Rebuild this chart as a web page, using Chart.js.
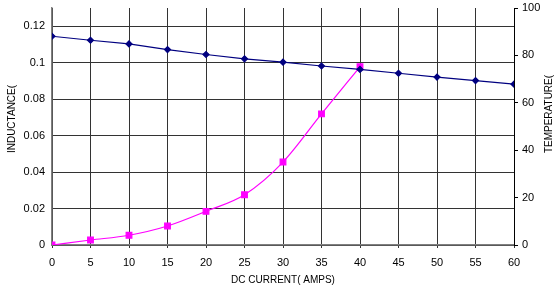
<!DOCTYPE html>
<html>
<head>
<meta charset="utf-8">
<script src="https://cdn.jsdelivr.net/npm/chart.js@4"></script>
<style>
  html, body { margin: 0; padding: 0; background: #fff; }
  #wrap { width: 556px; height: 292px; }
</style>
</head>
<body>
<div id="wrap"><canvas id="myChart" width="556" height="292"></canvas></div>
<script>
// DC current (amps)
const currentAmps = [0, 5, 10, 15, 20, 25, 30, 35, 40, 45, 50, 55, 60];
// inductance, left axis
const inductance = [0.1145, 0.1123, 0.1103, 0.1072, 0.1045, 0.1021, 0.1003, 0.0982, 0.0963, 0.0942, 0.0921, 0.0902, 0.0882];
// temperature rise, right axis (measured up to 40 A)
const tempAmps = [0, 5, 10, 15, 20, 25, 30, 35, 40];
const temperature = [0, 2.1, 4.1, 8.0, 14.2, 21.2, 35, 55.3, 75.2];

const leftTitle = 'INDUCTANCE(';
const rightTitle = 'TEMPERATURE(';
const xTitle = 'DC CURRENT( AMPS)';

const FONT = "'Liberation Sans', Arial, sans-serif";

const titlesPlugin = {
    id: 'titles',
    afterDraw(chart) {
        const c = chart.ctx;
        c.save();
        c.fillStyle = '#000';
        c.font = '10px ' + FONT;
        c.textAlign = 'center';
        c.textBaseline = 'middle';
        c.save();
        c.translate(12, 119);
        c.rotate(-Math.PI / 2);
        c.fillText(leftTitle, 0, 0);
        c.restore();
        c.save();
        c.translate(549, 114);
        c.rotate(-Math.PI / 2);
        c.fillText(rightTitle, 0, 0);
        c.restore();
        c.fillText(xTitle, 283, 280);
        c.restore();
    }
};

const ctx = document.getElementById('myChart').getContext('2d');
const myChart = new Chart(ctx, {
    type: 'line',
    data: {
        datasets: [{
            label: 'Inductance',
            data: currentAmps.map((x, i) => ({ x: x, y: inductance[i] })),
            yAxisID: 'y',
            borderColor: '#000080',
            backgroundColor: '#000080',
            borderWidth: 1.2,
            pointStyle: 'rectRot',
            pointRadius: 3,
            tension: 0
        }, {
            label: 'Temperature',
            data: tempAmps.map((x, i) => ({ x: x, y: temperature[i] })),
            yAxisID: 'y1',
            borderColor: '#ff00ff',
            backgroundColor: '#ff00ff',
            borderWidth: 1.2,
            pointStyle: 'rect',
            pointRadius: 4,
            cubicInterpolationMode: 'monotone'
        }]
    },
    options: {
        responsive: false,
        animation: false,
        layout: { padding: { top: 8, left: 0, right: 0, bottom: 0 } },
        plugins: {
            legend: { display: false },
            tooltip: { enabled: false }
        },
        scales: {
            x: {
                type: 'linear',
                min: 0,
                max: 60,
                afterFit(scale) { scale.height = 47; scale.paddingLeft = 0; scale.paddingRight = 0; },
                ticks: {
                    stepSize: 5,
                    color: '#000',
                    padding: 8,
                    maxRotation: 0,
                    font: { family: FONT, size: 11 }
                },
                grid: { color: '#333', lineWidth: 1, tickLength: 3 },
                border: { color: '#808080', width: 1.5 }
            },
            y: {
                position: 'left',
                min: 0,
                max: 0.13,
                afterFit(scale) { scale.width = 52; scale.paddingTop = 0; scale.paddingBottom = 0; },
                afterBuildTicks(scale) {
                    scale.ticks = [0, 0.02, 0.04, 0.06, 0.08, 0.1, 0.12].map(v => ({ value: v }));
                },
                ticks: {
                    color: '#000',
                    padding: 7,
                    font: { family: FONT, size: 11 },
                    callback: v => String(Math.round(v * 100) / 100)
                },
                grid: { color: '#333', lineWidth: 1, drawTicks: false },
                border: { color: '#808080', width: 1.5 }
            },
            y1: {
                position: 'right',
                min: 0,
                max: 100,
                afterFit(scale) { scale.width = 42; scale.paddingTop = 0; scale.paddingBottom = 0; },
                ticks: {
                    stepSize: 20,
                    color: '#000',
                    padding: 4,
                    font: { family: FONT, size: 11 }
                },
                grid: { drawOnChartArea: false, color: '#000', tickLength: 4 },
                border: { color: '#000', width: 1 }
            }
        }
    },
    plugins: [titlesPlugin]
});
</script>
</body>
</html>
